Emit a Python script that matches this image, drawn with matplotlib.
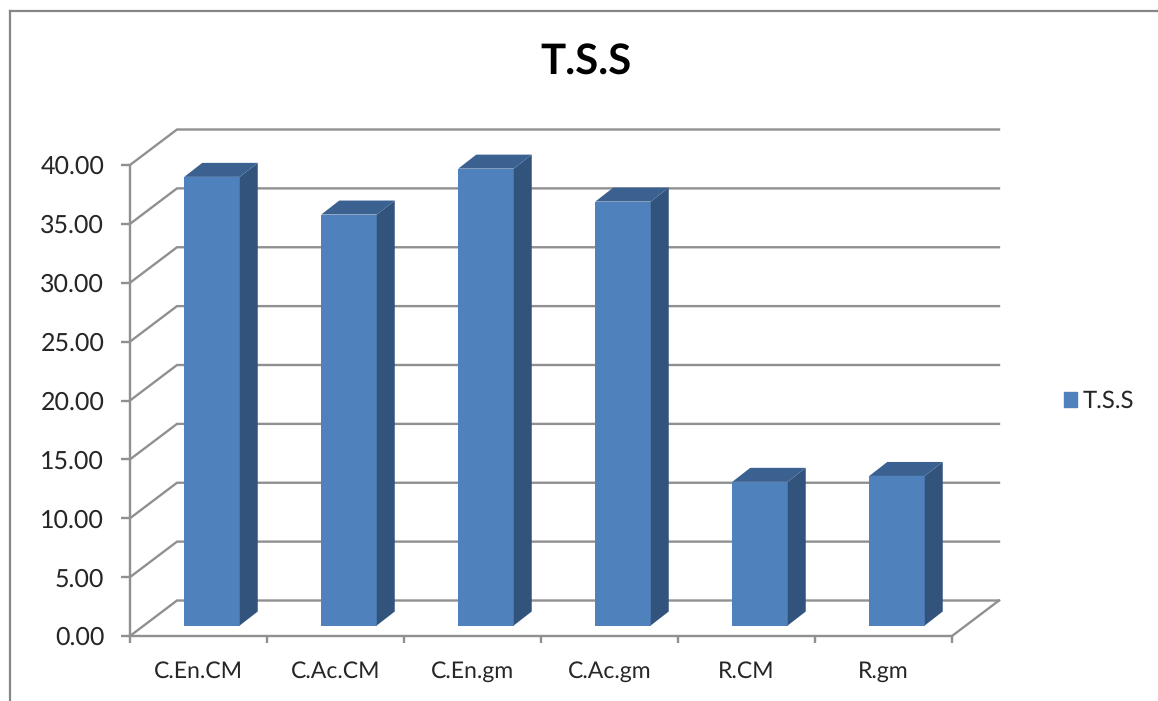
"""
T.S.S column chart, Excel style fake 3D
"""

import numpy as np
import matplotlib.pyplot as plt
from matplotlib.lines import Line2D

plt.rcParams['font.family'] = ['Lato', 'DejaVu Sans']
plt.rcParams['text.hinting'] = 'no_hinting'
plt.rcParams['text.hinting_factor'] = 1

# DATA
categories = ["C.En.CM", "C.Ac.CM", "C.En.gm", "C.Ac.gm", "R.CM", "R.gm"]
tss = [38.1, 34.9, 38.8, 36.0, 12.2, 12.7]
y_ticks = [0, 5, 10, 15, 20, 25, 30, 35, 40]
series_name = "T.S.S"

# Colours
grid_col = "#909090"
front_col = "#4f81bd"
side_col = "#31537c"
top_col = "#3b6191"
text_col = "#262626"

W, H = 1158, 701
fig = plt.figure(figsize=(W / 100, H / 100), dpi=100, facecolor="white")
ax = fig.add_axes([130 / W, (H - 636) / H, 822 / W, 471 / H])
ax.set_xlim(0, 6)
ax.set_ylim(0, 40)
ax.patch.set_visible(False)

# Size of the fake depth in data units (wall and bar)
px_x = 6 / 822
px_y = 40 / 471
wall_dx, wall_dy = 47 * px_x, 35.5 * px_y
bar_dx, bar_dy = 18 * px_x, 14 * px_y
shift_x, shift_y = 13.5 * px_x, 10.5 * px_y
bar_w = 55.5 * px_x

# Back wall grid lines, and the floor edge
for v in y_ticks:
    ax.plot([0, wall_dx, 6 + wall_dx], [v, v + wall_dy, v + wall_dy],
            color=grid_col, lw=1.7, clip_on=False, zorder=1, solid_joinstyle="miter")
ax.plot([6, 6 + wall_dx], [0, wall_dy], color=grid_col, lw=1.7, clip_on=False, zorder=1)

# Bars: front face, then side and top faces
pos = np.arange(len(tss)) + 0.5 + shift_x
ax.bar(pos, tss, width=bar_w, bottom=shift_y, color=front_col, zorder=3, clip_on=False)
for p, v in zip(pos, tss):
    r = p + bar_w / 2
    l = p - bar_w / 2
    t = v + shift_y
    ax.fill([r, r + bar_dx, r + bar_dx, r],
            [shift_y, shift_y + bar_dy, t + bar_dy, t],
            color=side_col, lw=0, zorder=3, clip_on=False)
    ax.fill([l, l + bar_dx, r + bar_dx, r],
            [t, t + bar_dy, t + bar_dy, t],
            color=top_col, lw=0, zorder=3, clip_on=False)

# Axes
for s in ["top", "right"]:
    ax.spines[s].set_visible(False)
for s in ["left", "bottom"]:
    ax.spines[s].set_color(grid_col)
    ax.spines[s].set_linewidth(1.7)
ax.set_yticks(y_ticks)
ax.set_yticklabels(["%.2f" % v for v in y_ticks], fontsize=18, color=text_col)
ax.set_xticks(np.arange(len(categories) + 1))
ax.set_xticklabels([""] * (len(categories) + 1))
for i, c in enumerate(categories):
    ax.annotate(c, (i + 0.5, 0), xytext=(0, -18), textcoords="offset points",
                ha="center", va="top", fontsize=16.5, color=text_col, annotation_clip=False)
ax.tick_params(axis="x", color=grid_col, width=1.7, length=5)
ax.tick_params(axis="y", color=grid_col, width=1.7, length=6.5, pad=12)

# Title
fig.text(585.5 / W, 1 - 63 / H, series_name, ha="center", va="center",
         fontsize=30.5, fontweight="bold", color="black")

# Legend
handle = plt.Rectangle((0, 0), 1, 1, color=front_col)
fig.legend([handle], [series_name], loc="center left",
           bbox_to_anchor=(1047 / W, 1 - 401 / H), frameon=False, fontsize=17,
           handlelength=0.58, handleheight=0.58, handletextpad=0.25,
           borderpad=0.2, labelcolor=text_col)

# Chart area border, left and top only are in frame
fig.add_artist(Line2D([9.5 / W, 9.5 / W], [0, 1 - 10.5 / H], color="#868686", lw=1.6))
fig.add_artist(Line2D([9.5 / W, 1], [1 - 10.5 / H, 1 - 10.5 / H], color="#868686", lw=1.6))

fig.savefig("out.png", dpi=100)
